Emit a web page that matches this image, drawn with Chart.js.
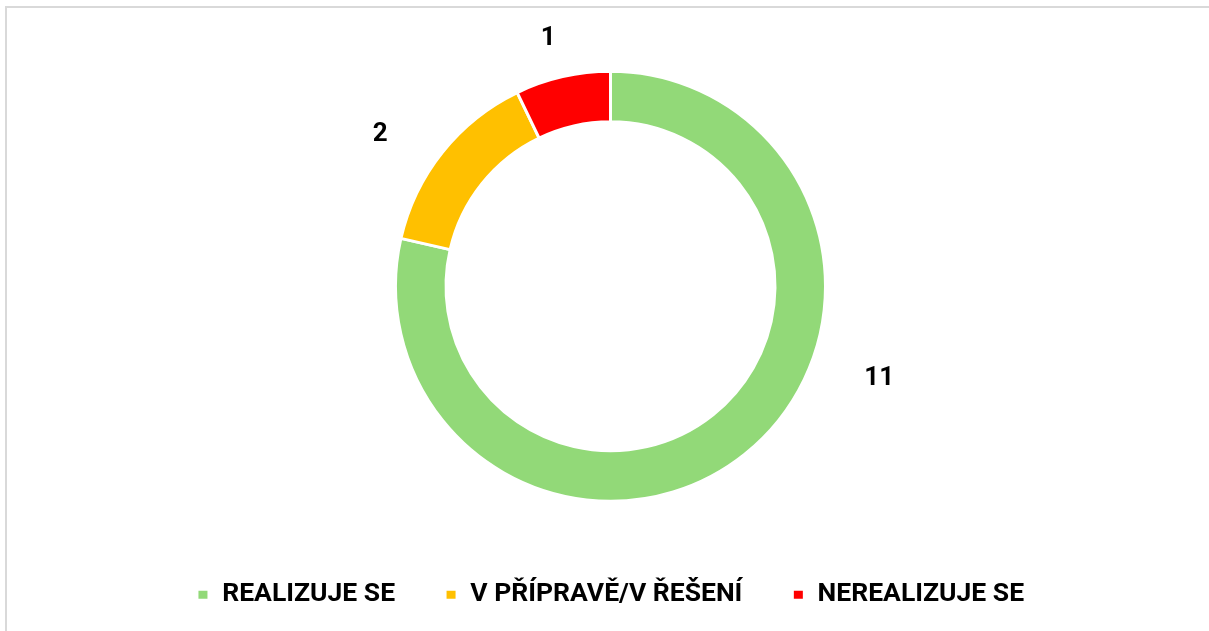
<!DOCTYPE html>
<html>
<head>
<meta charset="utf-8">
<script src="https://cdn.jsdelivr.net/npm/chart.js@4"></script>
<style>
  html, body { margin: 0; padding: 0; background: #ffffff; overflow: hidden; }
  #chart { position: absolute; left: 0; top: 0; }
</style>
</head>
<body>
<canvas id="chart" width="1209" height="631"></canvas>
<script>
// chart data
const categories = ['REALIZUJE SE', 'V PŘÍPRAVĚ/V ŘEŠENÍ', 'NEREALIZUJE SE'];
const counts = [11, 2, 1];
const colors = ['#92D978', '#FFC000', '#FF0000'];

const FONT = "Roboto, 'DejaVu Sans Condensed', sans-serif";

// light grey chart frame (only left and top edges are inside the picture)
const chartFrame = {
    id: 'chartFrame',
    beforeDraw(chart) {
        const ctx = chart.ctx;
        ctx.save();
        ctx.fillStyle = '#d9d9d9';
        ctx.fillRect(5, 6, 2, chart.height - 6);
        ctx.fillRect(5, 6, chart.width - 5, 2);
        ctx.restore();
    }
};

// draws the value labels outside the ring (Excel style "outside end")
const outsideLabels = {
    id: 'outsideLabels',
    afterDatasetsDraw(chart, args, opts) {
        const ctx = chart.ctx;
        const meta = chart.getDatasetMeta(0);
        ctx.save();
        ctx.font = 'bold ' + opts.size + 'px ' + FONT;
        ctx.fillStyle = '#000000';
        ctx.textAlign = 'center';
        ctx.textBaseline = 'middle';
        meta.data.forEach((arc, i) => {
            const p = arc.getProps(['x', 'y', 'startAngle', 'endAngle', 'outerRadius'], true);
            const a = p.startAngle + (p.endAngle - p.startAngle) * opts.fractions[i];
            const r = p.outerRadius + opts.offsets[i];
            ctx.fillText(String(counts[i]), p.x + Math.cos(a) * r, p.y + Math.sin(a) * r);
        });
        ctx.restore();
    }
};

new Chart(document.getElementById('chart'), {
    type: 'doughnut',
    data: {
        labels: categories,
        datasets: [{
            data: counts,
            backgroundColor: colors,
            borderColor: '#ffffff',
            borderWidth: 3
        }]
    },
    options: {
        responsive: false,
        animation: false,
        cutout: '76.5%',
        radius: 215,
        layout: { padding: { top: 41, bottom: 13, left: 12, right: 0 } },
        plugins: {
            legend: {
                position: 'bottom',
                labels: {
                    boxWidth: 12,
                    boxHeight: 11,
                    padding: 50,
                    color: '#000000',
                    font: { family: FONT, size: 26.5, weight: 'bold' }
                }
            },
            tooltip: { enabled: false },
            outsideLabels: {
                size: 26,
                fractions: [0.385, 0.40, 0.45],
                offsets: [69, 61, 40]
            }
        }
    },
    plugins: [chartFrame, outsideLabels]
});
</script>
</body>
</html>
